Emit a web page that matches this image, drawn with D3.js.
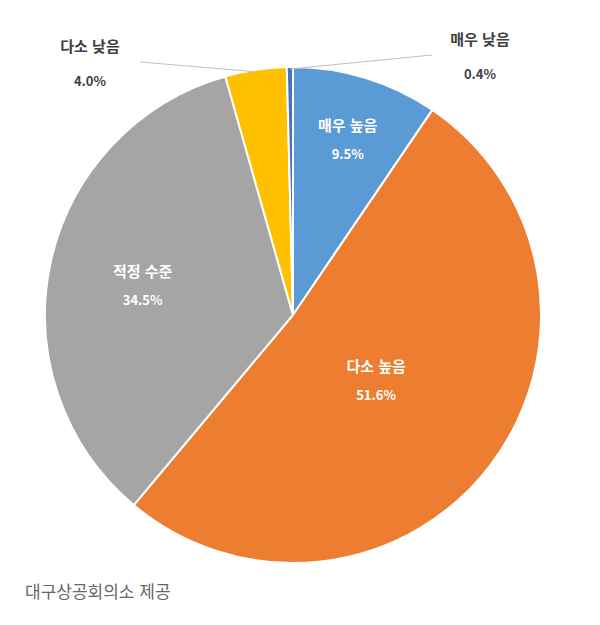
<!DOCTYPE html>
<html lang="ko">
<head>
<meta charset="UTF-8" />
<script src="https://cdnjs.cloudflare.com/ajax/libs/d3/7.9.0/d3.min.js"></script>
<style>
  html, body { margin: 0; background: #fff; }
  text { font-family: "Noto Sans CJK KR", "Noto Sans", sans-serif; }
</style>
</head>
<body>
<svg id="chart" width="600" height="625"></svg>
<script>
  // data (clockwise from 12 o'clock)
  const categories = ["매우 높음", "다소 높음", "적정 수준", "다소 낮음", "매우 낮음"];
  const values = [9.5, 51.6, 34.5, 4.0, 0.4];
  const colors = ["#5b9bd5", "#ed7d31", "#a5a5a5", "#ffc000", "#4472c4"];
  // inside labels: radius factor; outside labels: null
  const labelRadius = [0.75, 0.42, 0.62, null, null];
  const outsideLabelPos = { 3: [90, 52], 4: [480, 45] };

  const svg = d3.select("#chart");
  const cx = 293, cy = 315, r = 248;
  const g = svg.append("g").attr("transform", `translate(${cx},${cy})`);

  const pie = d3.pie().sort(null).value(d => d)(values);
  const arc = d3.arc().innerRadius(0).outerRadius(r);

  g.selectAll("path.slice")
    .data(pie)
    .join("path")
    .attr("class", "slice")
    .attr("d", arc)
    .attr("fill", (d, i) => colors[i])
    .attr("stroke", "#fff")
    .attr("stroke-width", 2);

  pie.forEach((d, i) => {
    const mid = (d.startAngle + d.endAngle) / 2;
    if (labelRadius[i] !== null) {
      const lr = r * labelRadius[i];
      const x = Math.sin(mid) * lr, y = -Math.cos(mid) * lr;
      g.append("text").attr("x", x).attr("y", y - 6)
        .attr("text-anchor", "middle").attr("fill", "#fff")
        .attr("font-size", 15).attr("font-weight", 700).text(categories[i]);
      g.append("text").attr("x", x).attr("y", y + 22)
        .attr("text-anchor", "middle").attr("fill", "#fff")
        .attr("font-size", 13).attr("font-weight", 700).text(values[i].toFixed(1) + "%");
    } else {
      const [tx, ty] = outsideLabelPos[i];
      const px = cx + Math.sin(mid) * (r - 2), py = cy - Math.cos(mid) * (r - 2);
      const lx = i === 3 ? tx + 50 : tx - 48;
      svg.append("line").attr("x1", lx).attr("y1", ty + 10).attr("x2", px).attr("y2", py)
        .attr("stroke", "#bfbfbf").attr("stroke-width", 1);
      svg.append("text").attr("x", tx).attr("y", ty)
        .attr("text-anchor", "middle").attr("fill", "#404040")
        .attr("font-size", 15).attr("font-weight", 700).text(categories[i]);
      svg.append("text").attr("x", tx).attr("y", ty + 34)
        .attr("text-anchor", "middle").attr("fill", "#404040")
        .attr("font-size", 13).attr("font-weight", 700).text(values[i].toFixed(1) + "%");
    }
  });

  svg.append("text").attr("x", 25).attr("y", 598)
    .attr("fill", "#666").attr("font-size", 17).text("대구상공회의소 제공");
</script>
</body>
</html>
